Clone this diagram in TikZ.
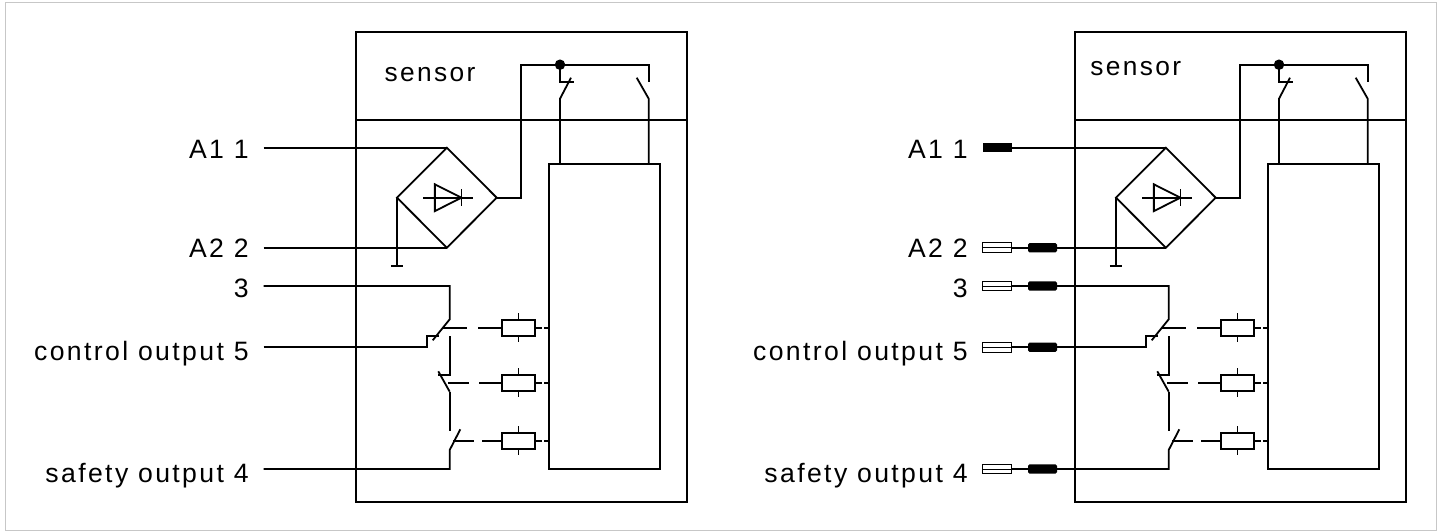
\documentclass[tikz,border=0pt]{standalone}
\usepackage{fontspec}
\usepackage{tikz}
\usetikzlibrary{shapes.geometric, positioning}
\setmainfont{Liberation Sans}[LetterSpace=9]

\begin{document}
\begin{tikzpicture}[
        x=1pt, y=-1pt,
        line width=1.8pt,
        case/.style={rectangle, draw, inner sep=0pt, outer sep=0pt},
        bridge/.style={diamond, draw, aspect=1, inner sep=0pt, outer sep=0pt, minimum width=99.7pt, minimum height=100pt},
        relay/.style={rectangle, draw, inner sep=0pt, outer sep=0pt, minimum width=33.6pt, minimum height=16.6pt},
        junction/.style={circle, fill=black, inner sep=0pt, minimum size=10.5pt},
        plug/.style={rectangle, fill=black, inner sep=0pt, outer sep=0pt, minimum width=29pt, minimum height=9.2pt},
        fuse/.style={rectangle, draw, fill=white, line width=1pt, inner sep=0pt, outer sep=0pt, minimum width=29pt, minimum height=9.6pt},
        lbl/.style={anchor=base east, inner sep=0pt, font=\fontsize{26.6}{30}\selectfont},
        title/.style={anchor=base west, inner sep=0pt, font=\fontsize{26.3}{30}\selectfont}
    ]
    \useasboundingbox (0,0) rectangle (1442,531);

    % Outer frame
    \draw[line width=1pt, black!22] (5.5,2) rectangle (1436,530);

    % Both panels
    \foreach \side/\dx/\sx/\sy/\xa/\xb in {l/0/383.8/81/263.5/263.5, r/719/370.5/75/292.7/338} {
    \begin{scope}[xshift=\dx pt]

    % Housing, logic block and labels
    \node[case, minimum width=331pt, minimum height=470.3pt] (\side-case) at (521.5,267.15) {};
    \node[case, minimum width=110.7pt, minimum height=304.7pt] (\side-logic) at (604.35,316.65) {};
    \coordinate (\side-div) at (356,120);
    \draw (\side-case.west |- \side-div) -- (\side-case.east |- \side-div);
    \node[title] (\side-sensor) at (\sx,\sy) {sensor};
    \node[lbl] (\side-la) at (249.5,158) {A1 1};
    \node[lbl] (\side-lb) at (249.5,257.5) {A2 2};
    \node[lbl] (\side-lc) at (249.5,297) {3};
    \node[lbl] (\side-le) at (249.5,360) {control output 5};
    \node[lbl] (\side-ld) at (249.5,482) {safety output 4};

    % Rectifier bridge
    \node[bridge] (\side-rect) at (446.85,197.7) {};
    \draw ([shift={(-12pt,13.4pt)}]\side-rect.center) -- ++(0,26.8) -- ++(26.6,-13.4) -- cycle;
    \draw ([xshift=-23.5pt]\side-rect.center) -- ([xshift=25.9pt]\side-rect.center);
    \draw ([shift={(14.6pt,8.7pt)}]\side-rect.center) -- ++(0,17);

    % Ground
    \coordinate (\side-gnd) at (397,266);
    \draw (\side-rect.west) -- (\side-gnd);
    \draw ([xshift=-6.2pt]\side-gnd) -- ([xshift=6.2pt]\side-gnd);

    % Supply wires
    \coordinate (\side-ta) at (\xa,147.7);
    \coordinate (\side-tb) at (\xb,247.7);
    \draw (\side-ta) -- (\side-rect.north);
    \draw (\side-tb) -- (\side-rect.south);

    % Top contacts
    \node[junction] (\side-dot) at (560,64.7) {};
    \coordinate (\side-nc) at (648.7,64.7);
    \draw (\side-rect.east) -- ++(24.6,0) |- (\side-nc) -- ++(0,17);
    \draw (\side-dot.center) -- ++(0,17) -- ++(14,0);
    \draw (\side-dot |- \side-logic.north) -- ++(0,-65.6) -- ++(11,-21);
    \draw (\side-nc |- \side-logic.north) -- ++(0,-65.6) -- ++(-12,-21);

    % Output contacts
    \coordinate (\side-tc) at (\xb,286);
    \coordinate (\side-te) at (\xb,347.3);
    \coordinate (\side-td) at (\xb,469);
    \coordinate (\side-swa) at (449.7,319.3);
    \coordinate (\side-no) at (427.3,336);
    \coordinate (\side-swb) at (449.7,336);
    \coordinate (\side-swc) at (449.7,391.7);
    \coordinate (\side-swd) at (449.7,450);
    \draw (\side-tc) -| (\side-swa) -- ++(-17,21);
    \draw (\side-te) -| (\side-no) -- ++(12,0);
    \draw (\side-swb) -- ++(0,39) -- ++(-11.4,0);
    \draw (\side-swc) -- ++(-11.4,-20.4);
    \draw (\side-swc) -- ++(0,39);
    \draw (\side-td) -| (\side-swd) -- ++(10.6,-20.7);

    % Relays with their links
    \foreach \r/\y/\lx/\la/\lb in {a/328/443.3/23.7/23.7, b/383/448.3/20.4/22.7, c/441/453.3/20.4/19.4} {
        \node[relay] (\side-relay\r) at (518.5,\y) {};
        \draw (\side-relay\r.north) -- ++(0,-6.4);
        \draw (\side-relay\r.south) -- ++(0,5.7);
        \draw (\side-relay\r.east) -- ++(6.4,0);
        \draw (\side-logic.west |- \side-relay\r.east) -- ++(-5.4,0);
        \draw (\side-relay\r.west) -- ++(-\lb,0);
        \coordinate (\side-link\r) at (\lx,\y);
        \draw (\side-link\r) -- ++(\la,0);
    }
    \end{scope}
    }

    % Plugs on the right panel
    \node[plug, left=0pt of r-ta] (plug-a) {};
    \node[plug, rounded corners=1.5pt, left=0pt of r-tb] (plug-b) {};
    \node[plug, rounded corners=1.5pt, left=0pt of r-tc] (plug-c) {};
    \node[plug, rounded corners=1.5pt, left=0pt of r-te] (plug-e) {};
    \node[plug, rounded corners=1.5pt, left=0pt of r-td] (plug-d) {};

    % Fuses in front of the plugs
    \foreach \f in {b, c, e, d} {
        \node[fuse, left=17pt of plug-\f] (fuse-\f) {};
        \draw[line width=1pt] (fuse-\f.west) -- (fuse-\f.east);
        \draw (fuse-\f) -- (plug-\f);
    }

\end{tikzpicture}
\end{document}
